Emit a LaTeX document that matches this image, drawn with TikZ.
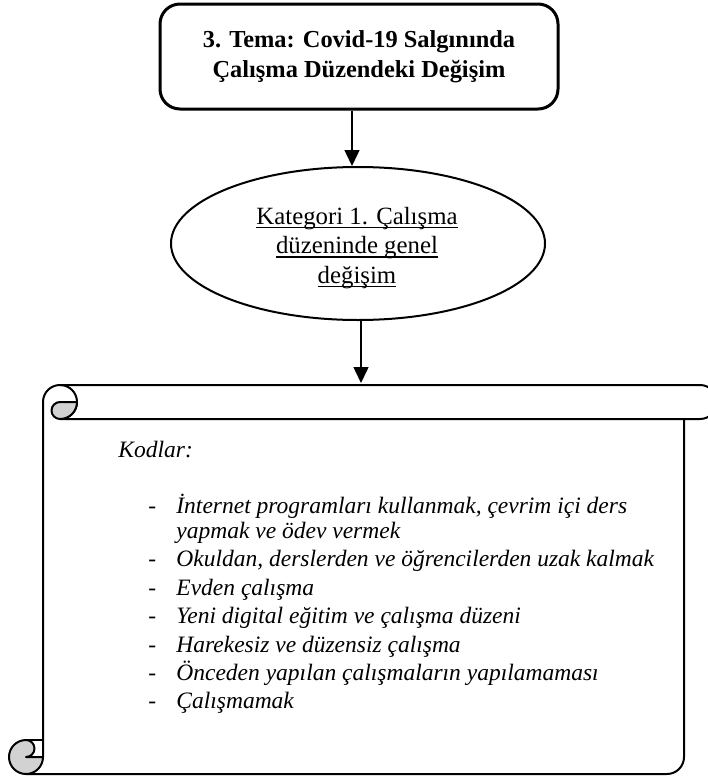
\documentclass[tikz,border=0pt]{standalone}
\usepackage{fontspec}
\setmainfont{Liberation Serif}
\usetikzlibrary{arrows.meta,shapes.geometric}
\newcommand\myul[1]{\setbox0\hbox{#1}\rlap{\vrule height -1.2pt depth 1.9pt width \wd0}\box0}
\begin{document}
\begin{tikzpicture}[x=0.5pt,y=-0.5pt,
  temabox/.style={draw, line width=1.5pt, rounded corners=10pt, minimum width=199pt, minimum height=52.5pt, align=center, font=\bfseries\fontsize{12.2}{15}\selectfont, inner sep=0pt},
  katell/.style={draw, ellipse, line width=1pt, minimum width=187pt, minimum height=76.5pt, inner sep=0pt},
  kattext/.style={align=center, font=\fontsize{12.4}{14.8}\selectfont, inner sep=0pt},
  arr/.style={line width=0.75pt, -{Triangle[width=7.5pt,length=8pt]}},
  scroll/.style={line width=1pt, line join=round},
  curl/.style={scroll, fill=gray!35},
  itemtxt/.style={anchor=base west, inner sep=0pt, font=\itshape\fontsize{11.75}{14}\selectfont}]
\useasboundingbox (0,0) rectangle (707,776);

% theme box
\node[temabox] (tema) at (359,56.5) {3. Tema: Covid-19 Salgınında\\Çalışma Düzendeki Değişim};
% category ellipse
\node[katell] (kat) at (358,243.5) {};
\node[kattext] (katt) at (357,248) {\myul{Kategori 1. Çalışma}\\\myul{düzeninde genel}\\\myul{değişim}};

\coordinate (a1) at (352,0);
\draw[arr] (tema.south -| a1) -- (kat.north -| a1);
\coordinate (scrolltop) at (361,383);
\draw[arr] (kat.south -| scrolltop) -- (scrolltop);

% scroll shape
\draw[scroll] (43,757) -- (43,402) arc[start angle=180, end angle=450, radius=17];
\draw[scroll] (60,385) -- (700,385) arc[start angle=270, end angle=450, radius=17] -- (60,419);
\draw[curl] (60,402) arc[start angle=270, end angle=90, radius=8.5] arc[start angle=90, end angle=0, radius=17] -- cycle;
\draw[scroll] (684,419) -- (684,757) arc[start angle=0, end angle=90, radius=17] -- (26,774);
\draw[curl] (26,740) arc[start angle=270, end angle=450, radius=8.5] -- (43,757) arc[start angle=0, end angle=270, radius=17] -- cycle;
\draw[scroll] (26,740) -- (43,740);

% scroll text
\node[itemtxt] (kod) at (118,457) {Kodlar:};
\node[itemtxt] (d1) at (148,513) {-};
\node[itemtxt] (t1) at (176,513) {İnternet programları kullanmak, çevrim içi ders};
\node[itemtxt] (t1b) at (176,538) {yapmak ve ödev vermek};
\node[itemtxt] (d2) at (148,566) {-};
\node[itemtxt] (t2) at (176,566) {Okuldan, derslerden ve öğrencilerden uzak kalmak};
\node[itemtxt] (d3) at (148,595) {-};
\node[itemtxt] (t3) at (176,595) {Evden çalışma};
\node[itemtxt] (d4) at (148,623) {-};
\node[itemtxt] (t4) at (176,623) {Yeni digital eğitim ve çalışma düzeni};
\node[itemtxt] (d5) at (148,652) {-};
\node[itemtxt] (t5) at (176,652) {Harekesiz ve düzensiz çalışma};
\node[itemtxt] (d6) at (148,680) {-};
\node[itemtxt] (t6) at (176,680) {Önceden yapılan çalışmaların yapılamaması};
\node[itemtxt] (d7) at (148,708) {-};
\node[itemtxt] (t7) at (176,708) {Çalışmamak};
\end{tikzpicture}
\end{document}
